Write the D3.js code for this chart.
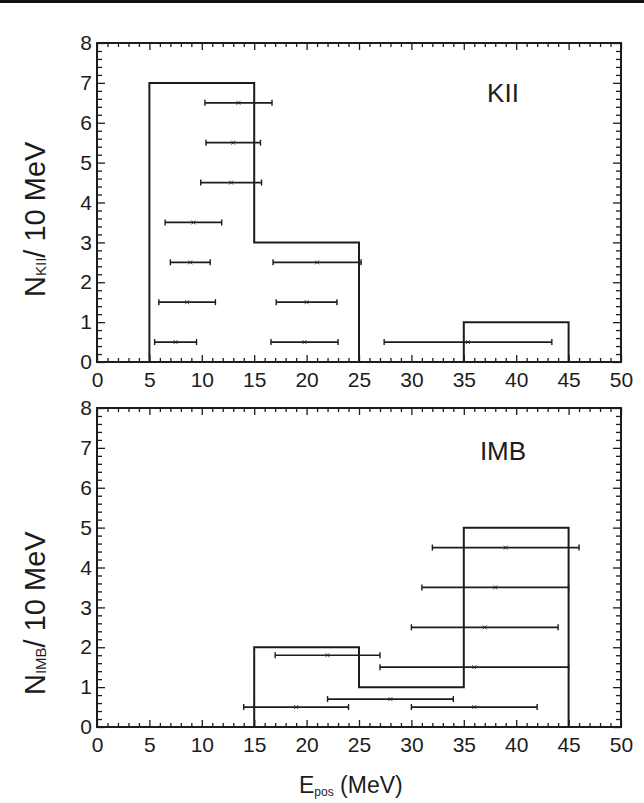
<!DOCTYPE html>
<html>
<head>
<meta charset="utf-8">
<script src="https://cdn.jsdelivr.net/npm/d3@7"></script>
<style>
  body { margin: 0; background: #fff; }
  svg { display: block; }
</style>
</head>
<body>
<svg id="chart" width="644" height="803"></svg>
<script>
// KII histogram (bin edges in MeV, counts per 10 MeV)
const kiiEdges = [5, 15, 25, 35, 45];
const kiiCounts = [7, 3, 0, 1];
// KII events: positron energy, error, and stacking row in the plot
const kiiEnergy = [7.5, 8.6, 8.9, 9.2, 12.8, 13.0, 13.5, 19.8, 20.0, 21.0, 35.4];
const kiiError = [2.0, 2.7, 1.9, 2.7, 2.9, 2.6, 3.2, 3.2, 2.9, 4.2, 8.0];
const kiiRow = [0.5, 1.5, 2.5, 3.5, 4.5, 5.5, 6.5, 0.5, 1.5, 2.5, 0.5];

// IMB histogram
const imbEdges = [15, 25, 35, 45];
const imbCounts = [2, 1, 5];
// IMB events
const imbEnergy = [19, 22, 28, 36, 36, 37, 38, 39];
const imbError = [5, 5, 6, 6, 9, 7, 7, 7];
const imbRow = [0.5, 1.8, 0.7, 0.5, 1.5, 2.5, 3.5, 4.5];

const xMajor = d3.range(0, 51, 5);
const xMinor = d3.range(0, 51, 1).filter(v => v % 5 !== 0);
const yMajor = d3.range(0, 9, 1);
const yMinor = d3.range(0, 41, 1).filter(v => v % 5 !== 0).map(v => v / 5);

const ink = '#1c1c1c';
const font = '"Liberation Sans", Arial, Helvetica, sans-serif';

const svg = d3.select('#chart');
svg.append('rect').attr('width', 644).attr('height', 803).attr('fill', '#fff');
svg.append('rect').attr('width', 644).attr('height', 3).attr('fill', '#111');

const x = d3.scaleLinear().domain([0, 50]).range([97, 621]);

const panels = [
  { top: 43, bottom: 362, label: 'KII', labelY: 102, sub: 'KII', titleStart: 297,
    edges: kiiEdges, counts: kiiCounts, energy: kiiEnergy, error: kiiError, row: kiiRow },
  { top: 408, bottom: 727, label: 'IMB', labelY: 460, sub: 'IMB', titleStart: 695,
    edges: imbEdges, counts: imbCounts, energy: imbEnergy, error: imbError, row: imbRow }
];

const stripDomain = g => g.select('.domain').remove();

const styleTicks = g => {
  g.selectAll('line').attr('stroke', ink).attr('stroke-width', 1.3);
  g.selectAll('text')
    .attr('fill', ink)
    .attr('font-size', 21)
    .attr('font-family', font);
};

panels.forEach(p => {
  const y = d3.scaleLinear().domain([0, 8]).range([p.bottom, p.top]);
  const g = svg.append('g');

  // ticks on all four sides, pointing inward
  g.append('g').attr('transform', `translate(0,${p.bottom})`)
    .call(d3.axisBottom(x).tickValues(xMajor).tickSize(-7).tickPadding(10).tickFormat(d3.format('d')))
    .call(stripDomain).call(styleTicks);
  g.append('g').attr('transform', `translate(0,${p.bottom})`)
    .call(d3.axisBottom(x).tickValues(xMinor).tickSize(-4).tickFormat(''))
    .call(stripDomain).call(styleTicks);
  g.append('g').attr('transform', `translate(0,${p.top})`)
    .call(d3.axisTop(x).tickValues(xMajor).tickSize(-7).tickFormat(''))
    .call(stripDomain).call(styleTicks);
  g.append('g').attr('transform', `translate(0,${p.top})`)
    .call(d3.axisTop(x).tickValues(xMinor).tickSize(-4).tickFormat(''))
    .call(stripDomain).call(styleTicks);

  g.append('g').attr('transform', `translate(${x(0)},0)`)
    .call(d3.axisLeft(y).tickValues(yMajor).tickSize(-8).tickPadding(5).tickFormat(d3.format('d')))
    .call(stripDomain).call(styleTicks);
  g.append('g').attr('transform', `translate(${x(0)},0)`)
    .call(d3.axisLeft(y).tickValues(yMinor).tickSize(-5).tickFormat(''))
    .call(stripDomain).call(styleTicks);
  g.append('g').attr('transform', `translate(${x(50)},0)`)
    .call(d3.axisRight(y).tickValues(yMajor).tickSize(-8).tickFormat(''))
    .call(stripDomain).call(styleTicks);
  g.append('g').attr('transform', `translate(${x(50)},0)`)
    .call(d3.axisRight(y).tickValues(yMinor).tickSize(-5).tickFormat(''))
    .call(stripDomain).call(styleTicks);

  // frame
  g.append('rect')
    .attr('x', x(0)).attr('y', p.top)
    .attr('width', x(50) - x(0)).attr('height', p.bottom - p.top)
    .attr('fill', 'none').attr('stroke', ink).attr('stroke-width', 2);

  // histogram outline
  const pts = [[p.edges[0], 0]]
    .concat(p.counts.map((c, i) => [p.edges[i], c]))
    .concat([[p.edges[p.edges.length - 1], 0]]);
  const line = d3.line().x(d => x(d[0])).y(d => y(d[1])).curve(d3.curveStepAfter);
  g.append('path')
    .attr('d', line(pts))
    .attr('fill', 'none').attr('stroke', ink).attr('stroke-width', 2);

  // events with horizontal error bars
  const ev = p.energy.map((e, i) => ({ e, err: p.error[i], row: p.row[i] }));
  const bars = g.append('g').attr('stroke', ink);
  bars.selectAll('line.bar').data(ev).join('line').attr('class', 'bar')
    .attr('x1', d => x(d.e - d.err)).attr('x2', d => x(d.e + d.err))
    .attr('y1', d => y(d.row)).attr('y2', d => y(d.row))
    .attr('stroke-width', 1.7);
  bars.selectAll('line.capL').data(ev).join('line').attr('class', 'capL')
    .attr('x1', d => x(d.e - d.err)).attr('x2', d => x(d.e - d.err))
    .attr('y1', d => y(d.row) - 3).attr('y2', d => y(d.row) + 3)
    .attr('stroke-width', 1.4);
  bars.selectAll('line.capR').data(ev).join('line').attr('class', 'capR')
    .attr('x1', d => x(d.e + d.err)).attr('x2', d => x(d.e + d.err))
    .attr('y1', d => y(d.row) - 3).attr('y2', d => y(d.row) + 3)
    .attr('stroke-width', 1.4);
  bars.selectAll('path.mark').data(ev).join('path').attr('class', 'mark')
    .attr('d', d => {
      const cx = x(d.e), cy = y(d.row);
      return `M${cx - 2},${cy - 2}L${cx + 2},${cy + 2}M${cx - 2},${cy + 2}L${cx + 2},${cy - 2}`;
    })
    .attr('fill', 'none').attr('stroke-width', 0.8);

  // panel label
  g.append('text')
    .attr('x', 503).attr('y', p.labelY)
    .attr('text-anchor', 'middle')
    .attr('font-family', font).attr('font-size', 26).attr('fill', ink)
    .text(p.label);

  // y axis title
  const t = g.append('text')
    .attr('transform', `translate(45,${p.titleStart}) rotate(-90)`)
    .attr('font-family', font).attr('font-size', 29).attr('fill', ink);
  t.append('tspan').text('N');
  t.append('tspan').attr('font-size', 15).attr('dy', 1).text(p.sub);
  t.append('tspan').attr('dy', -1).text('/ 10 MeV');
});

// x axis title
const xt = svg.append('text')
  .attr('x', 299).attr('y', 793)
  .attr('font-family', font).attr('font-size', 23).attr('fill', ink);
xt.append('tspan').text('E');
xt.append('tspan').attr('font-size', 12).attr('dy', 3).text('pos');
xt.append('tspan').attr('dy', -3).text(' (MeV)');
</script>
</body>
</html>
